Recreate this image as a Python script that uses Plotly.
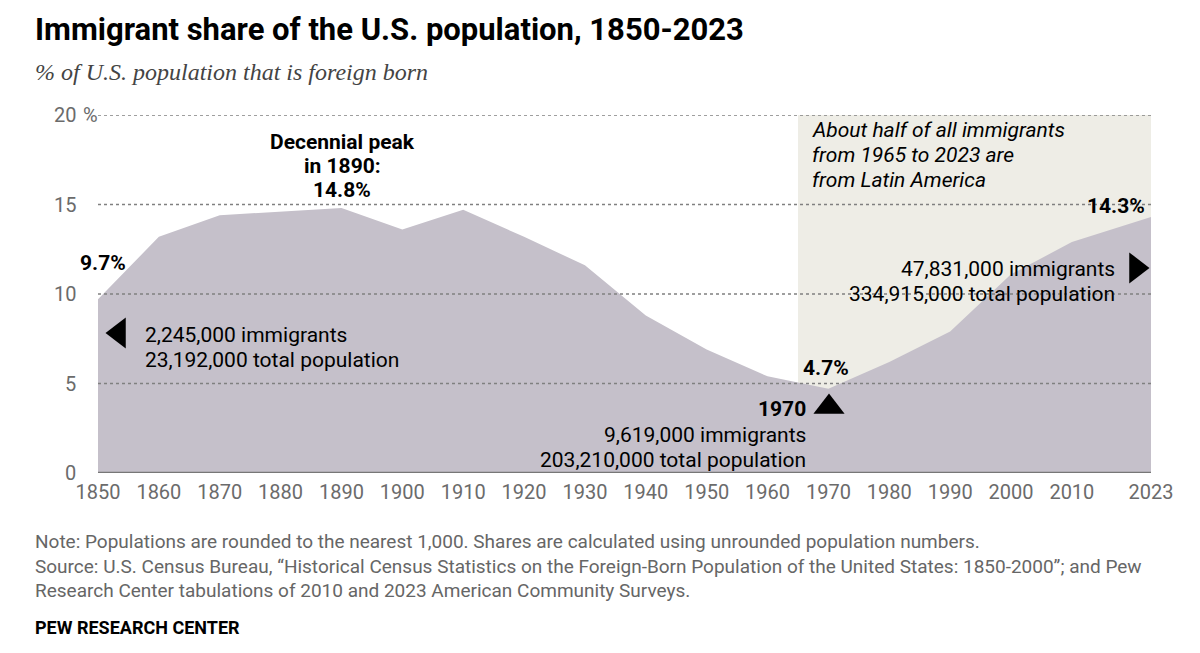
import plotly.graph_objects as go

years = [1850, 1860, 1870, 1880, 1890, 1900, 1910, 1920, 1930, 1940, 1950,
         1960, 1970, 1980, 1990, 2000, 2010, 2023]
share = [9.7, 13.2, 14.4, 14.6, 14.8, 13.6, 14.7, 13.2, 11.6, 8.8, 6.9,
         5.4, 4.7, 6.2, 7.9, 11.1, 12.9, 14.3]
tick_years = [1850, 1860, 1870, 1880, 1890, 1900, 1910, 1920, 1930, 1940,
              1950, 1960, 1970, 1980, 1990, 2000, 2010, 2023]
y_ticks = [0, 5, 10, 15, 20]
y_tick_text = ["0", "5", "10", "15", "20"]
latin_period = [1965, 2023]

AREA = "#C5C0CA"
SHADE = "#EEEDE6"
GRID = "#808080"
TICK = "#6b6b6b"
FONT = "Roboto"

W, H = 1200, 653
L, R, T, B = 98, 49, 115, 180
X0, X1 = 1850, 2023
Y0, Y1 = 0, 20
def px(xp): return (xp - L) / (W - L - R)
def py(yp): return (H - B - yp) / (H - T - B)
def dx(xp): return X0 + (xp - L) * (X1 - X0) / (W - L - R)
def dy(yp): return Y0 + (H - B - yp) * (Y1 - Y0) / (H - T - B)

fig = go.Figure()
fig.add_trace(go.Scatter(
    x=years, y=share, mode="lines", fill="tozeroy",
    fillcolor=AREA, line=dict(color=AREA, width=0),
    hoverinfo="skip", showlegend=False))

# triangle pointers
fig.add_trace(go.Scatter(
    x=[dx(119), dx(829), dx(1136)], y=[dy(333), dy(407), dy(268)], mode="markers",
    marker=dict(symbol=["triangle-left", "triangle-up", "triangle-right"],
                size=27, color="black", line=dict(width=0)),
    hoverinfo="skip", showlegend=False))

shapes = [
    dict(type="rect", xref="x", yref="y", x0=latin_period[0], x1=latin_period[1],
         y0=0, y1=20, fillcolor=SHADE, line=dict(width=0), layer="below"),
]
for v in y_ticks[1:]:
    shapes.append(dict(type="line", xref="paper", yref="y", x0=0, x1=1, y0=v, y1=v,
                       line=dict(color=GRID, width=1.5, dash="dot"), layer="above"))
shapes.append(dict(type="line", xref="paper", yref="y", x0=0, x1=1, y0=0, y1=0,
                   line=dict(color="#777777", width=2.5), layer="above"))

ann = []
for v, t in zip(y_ticks, y_tick_text):
    ann.append(dict(xref="paper", yref="y", x=0, y=v, xanchor="right", xshift=-20,
                    text=t, showarrow=False,
                    font=dict(family=FONT, size=20, color=TICK)))
ann.append(dict(xref="paper", yref="y", x=0, y=20, xanchor="left", xshift=-17,
                text="%", showarrow=False, font=dict(family=FONT, size=20, color=TICK)))

def A(xp, yps, lines, size=21, bold=False, italic=False, xanchor="center", color="black"):
    for yp, text in zip(yps, lines):
        t = f"<b>{text}</b>" if bold else text
        t = f"<i>{t}</i>" if italic else t
        ann.append(dict(xref="x", yref="y", x=dx(xp), y=dy(yp), text=t, showarrow=False,
                        xanchor=xanchor, yanchor="middle",
                        font=dict(family=FONT, size=size, color=color)))

A(342, [142, 166, 190], ["Decennial peak", "in 1890:", "14.8%"], bold=True)
A(103, [263], ["9.7%"], bold=True)
A(143, [335, 360], ["2,245,000 immigrants", "23,192,000 total population"], xanchor="left")
A(826, [368], ["4.7%"], bold=True)
A(808, [409], ["1970"], bold=True, xanchor="right")
A(808, [435, 460], ["9,619,000 immigrants", "203,210,000 total population"], xanchor="right")
A(810, [130, 155, 180], ["About half of all immigrants", "from 1965 to 2023 are", "from Latin America"],
  italic=True, xanchor="left")
A(1147, [206], ["14.3%"], bold=True, xanchor="right")
A(1117, [269, 294], ["47,831,000 immigrants", "334,915,000 total population"], xanchor="right")

ann.append(dict(xref="paper", yref="paper", x=px(33), y=py(29), xanchor="left", yanchor="middle",
                text="<b>Immigrant share of the U.S. population, 1850-2023</b>", showarrow=False,
                font=dict(family=FONT, size=31, color="black")))
ann.append(dict(xref="paper", yref="paper", x=px(33), y=py(72), xanchor="left", yanchor="middle",
                text="<i>% of U.S. population that is foreign born</i>", showarrow=False,
                font=dict(family="Liberation Serif", size=24, color="#444444")))
ann.append(dict(xref="paper", yref="paper", x=px(33), y=py(566), xanchor="left", yanchor="middle",
                align="left", showarrow=False,
                text=("Note: Populations are rounded to the nearest 1,000. Shares are calculated using unrounded population numbers.<br>"
                      "Source: U.S. Census Bureau, \u201cHistorical Census Statistics on the Foreign-Born Population of the United States: 1850-2000\u201d; and Pew<br>"
                      "Research Center tabulations of 2010 and 2023 American Community Surveys."),
                font=dict(family=FONT, size=19, color="#666666")))
ann.append(dict(xref="paper", yref="paper", x=px(33), y=py(627), xanchor="left", yanchor="middle",
                text="<b>PEW RESEARCH CENTER</b>", showarrow=False,
                font=dict(family=FONT, size=18, color="black")))

fig.update_layout(
    width=W, height=H, margin=dict(l=L, r=R, t=T, b=B),
    paper_bgcolor="white", plot_bgcolor="white",
    shapes=shapes, annotations=ann,
    xaxis=dict(range=[X0, X1], tickvals=tick_years, ticktext=[str(y) for y in tick_years],
               showgrid=False, zeroline=False, showline=False, ticks="",
               ticklabelstandoff=5,
               tickfont=dict(family=FONT, size=20, color=TICK), fixedrange=True),
    yaxis=dict(range=[Y0, Y1], showgrid=False, zeroline=False, showticklabels=False,
               fixedrange=True),
)
fig.write_html("out.html", config={"displayModeBar": False})
